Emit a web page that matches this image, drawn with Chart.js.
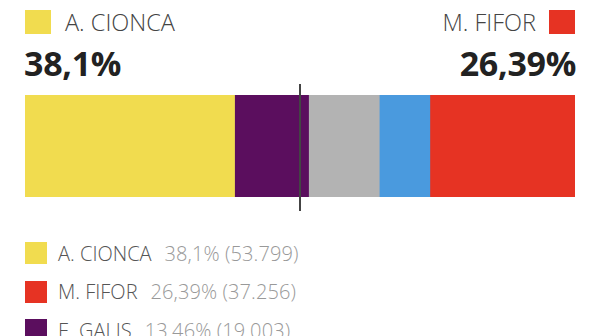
<!DOCTYPE html>
<html lang="ro">
<head>
  <meta charset="UTF-8">
  <title>Rezultate</title>
  <script src="https://cdn.jsdelivr.net/npm/chart.js"></script>
  <style>
    html, body { margin: 0; padding: 0; background: #fff; overflow: hidden; }
    body { width: 600px; height: 336px; position: relative; font-family: "Open Sans", sans-serif; }
    .hd { position: absolute; top: 6px; font-size: 23.5px; font-weight: 300; color: #444; display: flex; align-items: center; }
    .hd .sq { width: 26px; height: 24px; display: inline-block; }
    #hdLeft { left: 25px; }
    #hdLeft .sq { margin-right: 14px; }
    #hdRight { right: 25px; }
    #hdRight .sq { margin-left: 13px; }
    .big { position: absolute; top: 40px; font-size: 34px; font-weight: 700; color: #222; letter-spacing: -0.3px; }
    #bigLeft { left: 24px; }
    #bigRight { right: 24px; }
    #chart-wrapper { position: absolute; left: 0; top: 80px; width: 600px; height: 140px; }
    #legend { position: absolute; left: 25px; top: 234px; }
    .li { display: flex; align-items: center; height: 38.5px; font-weight: 300; }
    .li .sq { width: 22px; height: 22px; margin-right: 11px; }
    .li .nm { color: #555; margin-right: 13px; font-size: 20px; }
    .li .vl { color: #999; font-size: 20px; letter-spacing: 0.1px; }
  </style>
</head>
<body>

<div class="hd" id="hdLeft"><span class="sq"></span><span class="nm"></span></div>
<div class="hd" id="hdRight"><span class="nm"></span><span class="sq"></span></div>
<div class="big" id="bigLeft"></div>
<div class="big" id="bigRight"></div>

<div id="chart-wrapper">
  <canvas id="barChart"></canvas>
</div>

<div id="legend"></div>

<script>
  const candidates = ['A. CIONCA', 'E. GALIS', 'Candidat 4', 'Candidat 5', 'M. FIFOR'];
  const percents = [38.1, 13.46, 12.85, 9.2, 26.39];
  const colors = ['#f1dc4f', '#5b0e5e', '#b3b3b3', '#4a9ade', '#e63323'];

  const legendNames = ['A. CIONCA', 'M. FIFOR', 'E. GALIS'];
  const legendPercents = [38.1, 26.39, 13.46];
  const legendVotes = [53799, 37256, 19003];
  const legendColors = ['#f1dc4f', '#e63323', '#5b0e5e'];

  const fmtPct = v => String(v).replace('.', ',') + '%';
  const fmtVotes = v => v.toLocaleString('de-DE');

  // header
  const first = 0, last = candidates.length - 1;
  document.querySelector('#hdLeft .sq').style.background = colors[first];
  document.querySelector('#hdLeft .nm').textContent = candidates[first];
  document.querySelector('#hdRight .sq').style.background = colors[last];
  document.querySelector('#hdRight .nm').textContent = candidates[last];
  document.getElementById('bigLeft').textContent = fmtPct(percents[first]);
  document.getElementById('bigRight').textContent = fmtPct(percents[last]);

  // legend
  const legend = document.getElementById('legend');
  legendNames.forEach((name, i) => {
    const row = document.createElement('div');
    row.className = 'li';
    row.innerHTML = `<span class="sq" style="background:${legendColors[i]}"></span>` +
      `<span class="nm">${name}</span>` +
      `<span class="vl">${fmtPct(legendPercents[i])} (${fmtVotes(legendVotes[i])})</span>`;
    legend.appendChild(row);
  });

  // 50% marker
  const halfLine = {
    id: 'halfLine',
    afterDatasetsDraw(chart) {
      const ctx = chart.ctx;
      const x = Math.round(chart.scales.x.getPixelForValue(50));
      ctx.save();
      ctx.strokeStyle = '#444';
      ctx.lineWidth = 2;
      ctx.beginPath();
      ctx.moveTo(x, 4);
      ctx.lineTo(x, 131);
      ctx.stroke();
      ctx.restore();
    }
  };

  new Chart(document.getElementById('barChart'), {
    type: 'bar',
    data: {
      labels: [''],
      datasets: candidates.map((c, i) => ({
        label: c,
        data: [percents[i]],
        backgroundColor: colors[i],
        borderWidth: 0,
        barPercentage: 1,
        categoryPercentage: 1
      }))
    },
    options: {
      indexAxis: 'y',
      responsive: true,
      maintainAspectRatio: false,
      animation: false,
      layout: { padding: { left: 25, right: 25, top: 15, bottom: 23 } },
      plugins: { legend: { display: false }, tooltip: { enabled: false } },
      scales: {
        x: { stacked: true, min: 0, max: 100, display: false },
        y: { stacked: true, display: false }
      }
    },
    plugins: [halfLine]
  });
</script>

</body>
</html>
